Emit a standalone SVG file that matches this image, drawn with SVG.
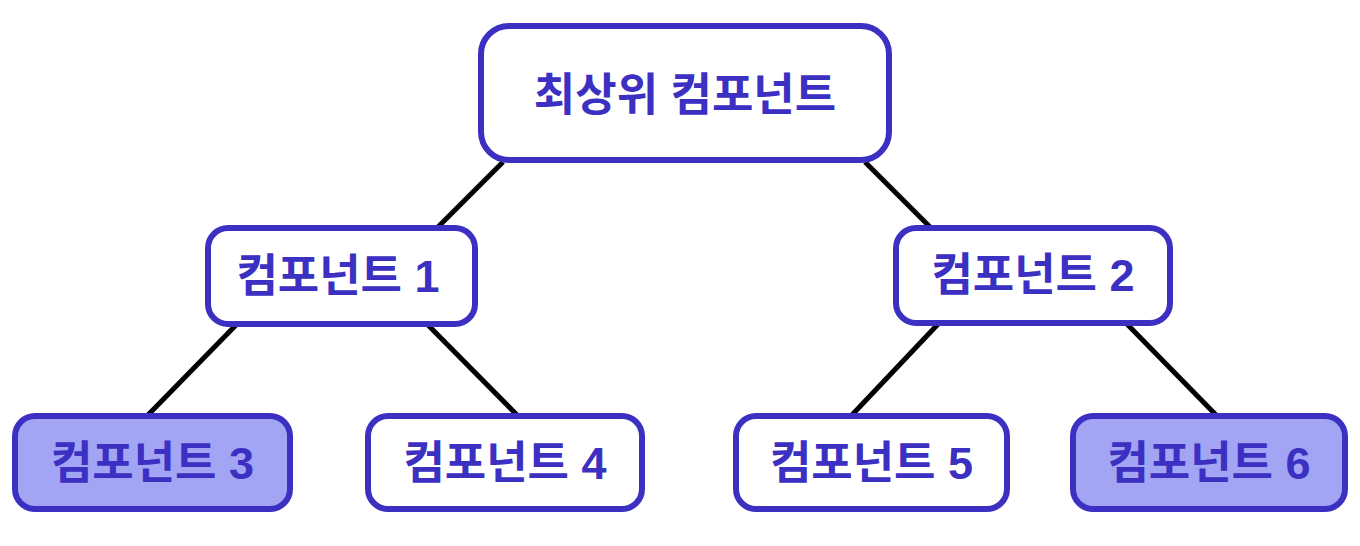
<svg xmlns="http://www.w3.org/2000/svg" width="1360" height="546" viewBox="0 0 1360 546">
<style>
.n rect{fill:#ffffff;stroke:#3b30c2;stroke-width:6}
.n.h rect{fill:#a2a4f4}
.n text{font-family:"Liberation Sans","Noto Sans CJK KR",sans-serif;font-weight:bold;font-size:45px;fill:#3b30c2;text-anchor:middle;dominant-baseline:central}
#edges line{stroke:#000000;stroke-width:5}
</style>
<rect width="1360" height="546" fill="#ffffff"/>
<g id="edges">
<line x1="503" y1="162" x2="437" y2="228"/>
<line x1="865" y1="162" x2="931" y2="228"/>
<line x1="237" y1="324" x2="147" y2="416"/>
<line x1="427" y1="324" x2="518" y2="416"/>
<line x1="940" y1="322" x2="851" y2="416"/>
<line x1="1125" y1="322" x2="1217" y2="416"/>
</g>
<g id="root" class="n"><rect x="481" y="26" width="408" height="134" rx="28"/><text x="685" y="95">최상위 컴포넌트</text></g>
<g id="c1" class="n"><rect x="208" y="228" width="267" height="96" rx="20"/><text x="338" y="276">컴포넌트 1</text></g>
<g id="c2" class="n"><rect x="896" y="228" width="274" height="95" rx="20"/><text x="1033" y="275">컴포넌트 2</text></g>
<g id="c3" class="n h"><rect x="15" y="416" width="275" height="93" rx="20"/><text x="152.5" y="463">컴포넌트 3</text></g>
<g id="c4" class="n"><rect x="368" y="416" width="274" height="93" rx="20"/><text x="505" y="463">컴포넌트 4</text></g>
<g id="c5" class="n"><rect x="736" y="416" width="271" height="93" rx="20"/><text x="871.5" y="463">컴포넌트 5</text></g>
<g id="c6" class="n h"><rect x="1073" y="416" width="272" height="93" rx="20"/><text x="1209" y="463">컴포넌트 6</text></g>
</svg>
